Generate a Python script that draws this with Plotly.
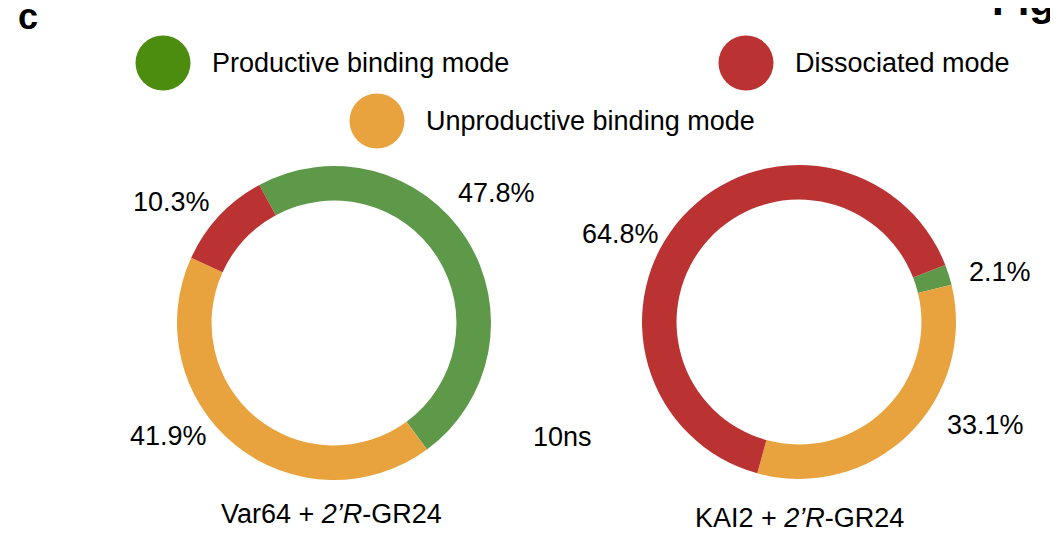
import plotly.graph_objects as go

# -------------------------------------------------
# Data
# -------------------------------------------------
modes = ["Productive binding mode", "Unproductive binding mode", "Dissociated mode"]
var64_pct = [47.8, 41.9, 10.3]
kai2_pct = [2.1, 33.1, 64.8]

donut_colors = ["#5e994a", "#e8a33e", "#bb3232"]
legend_colors = ["#4c8c0e", "#e8a33e", "#bb3232"]

# page size and the 8px body margin of the html page
PW, PH = 1058, 534
OFF = 8
W, H = PW - OFF, PH - OFF

fig = go.Figure()


def dom(cx, cy, r):
    # screen pixel centre/radius -> paper domain
    return dict(
        x=[(cx - r - OFF) / W, (cx + r - OFF) / W],
        y=[(PH - cy - r) / H, (PH - cy + r) / H],
    )


# -------------------------------------------------
# Donuts
# -------------------------------------------------
fig.add_trace(
    go.Pie(
        labels=modes,
        values=var64_pct,
        hole=0.78,
        sort=False,
        direction="clockwise",
        rotation=-28.4,
        marker=dict(colors=donut_colors, line=dict(width=0)),
        textinfo="none",
        hoverinfo="label+percent",
        domain=dom(334, 323, 157),
        showlegend=False,
    )
)

fig.add_trace(
    go.Pie(
        labels=modes,
        values=kai2_pct,
        hole=0.78,
        sort=False,
        direction="clockwise",
        rotation=68.7,
        marker=dict(colors=donut_colors, line=dict(width=0)),
        textinfo="none",
        hoverinfo="label+percent",
        domain=dom(799, 322, 157),
        showlegend=False,
    )
)

# -------------------------------------------------
# Legend (drawn by hand)
# -------------------------------------------------
leg_x = [163, 377, 746]
leg_y = [63, 121, 63]

fig.add_trace(
    go.Scatter(
        x=leg_x,
        y=leg_y,
        mode="markers",
        marker=dict(size=55, color=legend_colors, line=dict(width=0)),
        hoverinfo="skip",
        showlegend=False,
    )
)

font = "Liberation Sans, Arial, Helvetica, sans-serif"
fs = 27

annotations = []
for i in range(len(modes)):
    annotations.append(
        dict(
            x=leg_x[i] + 47, y=leg_y[i], xref="x", yref="y",
            text=modes[i], showarrow=False, xanchor="left", yanchor="middle",
            font=dict(size=fs, color="black", family=font),
        )
    )

# -------------------------------------------------
# Percent labels
# -------------------------------------------------
label_pos = [
    (var64_pct[0], 496, 193),
    (var64_pct[2], 171, 202),
    (var64_pct[1], 168, 436),
    (kai2_pct[2], 620, 234),
    (kai2_pct[0], 1000, 272),
    (kai2_pct[1], 985, 425),
]
for v, x, y in label_pos:
    annotations.append(
        dict(
            x=x, y=y, xref="x", yref="y", text=f"{v}%", showarrow=False,
            xanchor="center", yanchor="middle",
            font=dict(size=fs, color="black", family=font),
        )
    )

annotations += [
    dict(x=562, y=437, xref="x", yref="y", text="10ns", showarrow=False,
         font=dict(size=fs, color="black", family=font)),
    dict(x=331, y=514, xref="x", yref="y", text="Var64 + <i>2’R</i>-GR24",
         showarrow=False, font=dict(size=fs, color="black", family=font)),
    dict(x=799, y=518, xref="x", yref="y", text="KAI2 + <i>2’R</i>-GR24",
         showarrow=False, font=dict(size=fs, color="black", family=font)),
    dict(x=(28 - OFF) / W, y=(PH - 17) / H, xref="paper", yref="paper",
         text="<b>c</b>", showarrow=False, xanchor="center", yanchor="middle",
         font=dict(size=36, color="black", family=font)),
    dict(x=(990 - OFF) / W, y=(PH - 1) / H, xref="paper", yref="paper",
         text="<b>Fig</b>", showarrow=False, xanchor="left", yanchor="middle",
         font=dict(size=42, color="black", family=font)),
]

# -------------------------------------------------
# Layout
# -------------------------------------------------
fig.update_xaxes(range=[OFF, PW], visible=False, fixedrange=True)
fig.update_yaxes(range=[PH, OFF], visible=False, fixedrange=True)

fig.update_layout(
    width=W,
    height=H,
    margin=dict(l=0, r=0, t=0, b=0),
    paper_bgcolor="white",
    plot_bgcolor="rgba(0,0,0,0)",
    annotations=annotations,
)

fig.write_html("out.html")
